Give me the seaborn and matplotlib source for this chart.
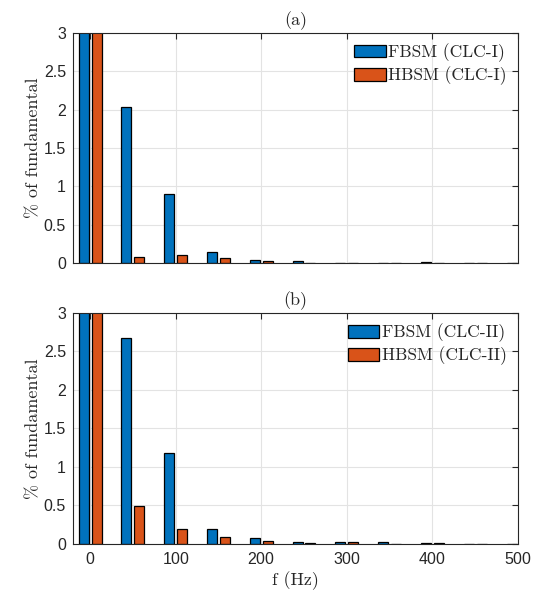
import matplotlib
matplotlib.use("Agg")
import matplotlib.pyplot as plt
import seaborn as sns
import pandas as pd
from matplotlib.ticker import FuncFormatter
from matplotlib.patches import Patch

# Harmonic spectrum, % of fundamental
freq_hz = [0, 50, 100, 150, 200, 250, 300, 350, 400, 450, 500]

fbsm_clc1 = [100, 2.04, 0.90, 0.14, 0.04, 0.02, 0.005, 0.005, 0.01, 0.005, 0.005]
hbsm_clc1 = [100, 0.08, 0.11, 0.07, 0.02, 0.005, 0.005, 0.005, 0.005, 0.005, 0.005]

fbsm_clc2 = [100, 2.68, 1.18, 0.19, 0.08, 0.02, 0.03, 0.03, 0.015, 0.005, 0.005]
hbsm_clc2 = [100, 0.49, 0.20, 0.095, 0.045, 0.015, 0.03, 0.005, 0.015, 0.005, 0.005]

series_a = ["FBSM (CLC-I)", "HBSM (CLC-I)"]
series_b = ["FBSM (CLC-II)", "HBSM (CLC-II)"]
titles = ["(a)", "(b)"]
yticks = [0, 0.5, 1, 1.5, 2, 2.5, 3]
xticks = [0, 100, 200, 300, 400, 500]

colors = ["#0072BD", "#D95319"]
serif = "cmr10"

sns.set_theme(style="white")
plt.rcParams["axes.formatter.use_mathtext"] = True


def long_frame(names, values):
    rows = []
    for name, vals in zip(names, values):
        for f, v in zip(freq_hz, vals):
            rows.append({"f": f, "pct": v, "series": name})
    return pd.DataFrame(rows)


fig = plt.figure(figsize=(5.39, 5.92), dpi=100)
ax_a = fig.add_axes([0.1354, 0.5557, 0.8256, 0.3886])
ax_b = fig.add_axes([0.1354, 0.0811, 0.8256, 0.3902])

panels = [
    (ax_a, series_a, [fbsm_clc1, hbsm_clc1]),
    (ax_b, series_b, [fbsm_clc2, hbsm_clc2]),
]

for i, (ax, names, vals) in enumerate(panels):
    df = long_frame(names, vals)
    sns.barplot(
        data=df, x="f", y="pct", hue="series", hue_order=names,
        palette=colors, native_scale=True, width=0.6, gap=0.22,
        edgecolor="black", linewidth=0.9, saturation=1, ax=ax,
        legend=False, errorbar=None,
    )
    ax.set_xlim(-20, 500)
    ax.set_ylim(0, 3)
    ax.set_yticks(yticks)
    ax.set_xticks(xticks)
    ax.yaxis.set_major_formatter(FuncFormatter(lambda v, p: f"{v:g}"))
    ax.grid(True, color="#e3e3e3", linewidth=0.8)
    ax.set_axisbelow(True)
    for s in ax.spines.values():
        s.set_color("#262626")
        s.set_linewidth(0.8)
    ax.tick_params(direction="in", length=4, width=0.8, colors="#262626",
                   top=True, right=True, labelsize=11.5, pad=5)
    for lab in ax.get_xticklabels() + ax.get_yticklabels():
        lab.set_fontfamily("Liberation Sans")
    ax.set_title(titles[i], fontfamily=serif, fontsize=13, pad=6)
    ax.set_ylabel("% of fundamental", fontfamily=serif, fontsize=13, labelpad=2)
    handles = [Patch(facecolor=c, edgecolor="black", linewidth=0.9) for c in colors]
    ax.legend(handles, names, loc="upper right", bbox_to_anchor=(0.975, 0.955),
              prop={"family": serif, "size": 12.5}, frameon=False,
              handlelength=1.8, handleheight=0.75, handletextpad=0.15,
              labelspacing=0.25, borderpad=0.0, borderaxespad=0.0)

ax_a.set_xlabel("")
ax_a.tick_params(labelbottom=False)
ax_b.set_xlabel("f (Hz)", fontfamily=serif, fontsize=13, labelpad=3)

fig.savefig("out.png", dpi=100)
